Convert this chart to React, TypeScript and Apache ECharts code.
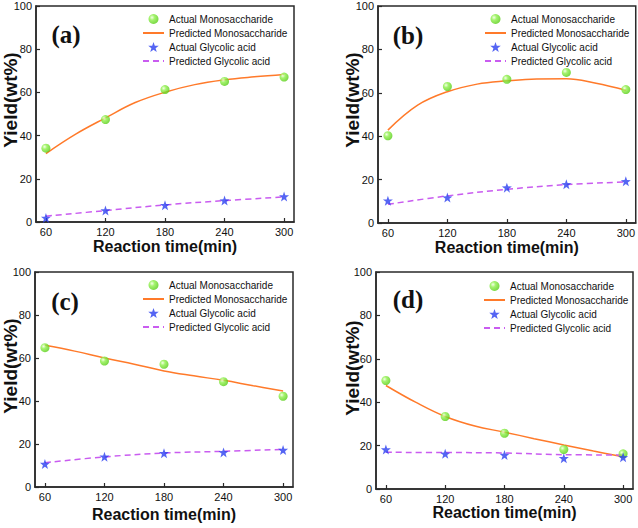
import React, { useEffect, useRef } from "react";
import * as echarts from "echarts";

// ---- data ----
const timeTicks = [60, 120, 180, 240, 300];
const predTime = [60, 90, 120, 150, 180, 210, 240, 270, 300];
const yTicks = [0, 20, 40, 60, 80, 100];

const panelLabels = ["(a)", "(b)", "(c)", "(d)"];
const seriesNames = [
  "Actual Monosaccharide",
  "Predicted Monosaccharide",
  "Actual Glycolic acid",
  "Predicted Glycolic acid",
];
const xTitle = "Reaction time(min)";
const yTitle = "Yield(wt%)";

// (a)
const monoActualA = [34.2, 47.4, 61.3, 65.1, 67.1];
const monoPredA = [31.7, 40.7, 48.2, 55.3, 60.1, 63.6, 65.8, 67.2, 68.3];
const glyActualA = [1.9, 5.3, 7.8, 9.9, 11.8];
const glyPredA = [2.7, 5.3, 7.9, 9.9, 11.6];
// (b)
const monoActualB = [40.2, 62.9, 66.2, 69.4, 61.5];
const monoPredB = [42.8, 54.3, 60.5, 64.0, 65.5, 66.4, 66.5, 64.4, 61.2];
const glyActualB = [10.3, 11.7, 16.3, 17.8, 19.2];
const glyPredB = [8.6, 12.5, 15.5, 17.7, 18.9];
// (c)
const monoActualC = [64.8, 58.6, 57.1, 49.0, 42.2];
const monoPredC = [65.9, 63.2, 60.0, 57.1, 54.0, 51.7, 49.6, 47.1, 44.7];
const glyActualC = [10.7, 14.1, 15.7, 16.1, 17.2];
const glyPredC = [11.3, 14.0, 15.8, 16.6, 17.5];
// (d)
const monoActualD = [50.0, 33.4, 25.7, 18.2, 16.2];
const monoPredD = [47.7, 40.0, 33.4, 29.0, 26.2, 23.2, 20.3, 17.5, 14.9];
const glyActualD = [18.2, 16.2, 15.7, 14.2, 14.6];
const glyPredD = [16.9, 16.8, 16.6, 15.8, 15.7];

const panels = [
  { ma: monoActualA, mp: monoPredA, ga: glyActualA, gp: glyPredA },
  { ma: monoActualB, mp: monoPredB, ga: glyActualB, gp: glyPredB },
  { ma: monoActualC, mp: monoPredC, ga: glyActualC, gp: glyPredC },
  { ma: monoActualD, mp: monoPredD, ga: glyActualD, gp: glyPredD },
];

// ---- layout ----
const grids = [
  { left: 36, top: 6, width: 258, height: 216 },
  { left: 378, top: 6, width: 258, height: 217 },
  { left: 35, top: 272, width: 258, height: 215 },
  { left: 376, top: 272, width: 257, height: 217 },
];
const xNameGaps = [16, 16, 19, 14];
const legendPos = [
  { left: 142, top: 13 },
  { left: 484, top: 13 },
  { left: 142, top: 279 },
  { left: 483, top: 280 },
];
const labelPos = [
  [66, 34],
  [408, 35],
  [65, 301],
  [408, 299],
];
const yTitlePos = [
  [10, 100],
  [352, 100],
  [10, 366],
  [352, 368],
];

const STAR =
  "path://M50 0 L61.76 33.82 L97.55 34.55 L69.02 56.18 L79.39 90.45 L50 70 L20.61 90.45 L30.98 56.18 L2.45 34.55 L38.24 33.82 Z";

const SANS = "Arial, 'Liberation Sans', sans-serif";

function zip(xs: number[], ys: number[]) {
  return xs.map((x, i) => [x, ys[i]]);
}

export default function App() {
  const ref = useRef<HTMLDivElement>(null);

  useEffect(() => {
    document.body.style.margin = "0";
    const chart = echarts.init(ref.current!, null, { renderer: "svg" });

    const green = new echarts.graphic.RadialGradient(0.35, 0.35, 0.75, [
      { offset: 0, color: "#f0ffe0" },
      { offset: 0.35, color: "#8ef04a" },
      { offset: 1, color: "#4fc80e" },
    ]);

    const series: any[] = [];
    panels.forEach((p, i) => {
      series.push({
        name: seriesNames[1],
        type: "line",
        xAxisIndex: i,
        yAxisIndex: i,
        data: zip(predTime, p.mp),
        smooth: 0.4,
        symbol: "none",
        lineStyle: { color: "#ff7a2a", width: 1.5 },
        itemStyle: { color: "rgba(0,0,0,0)", opacity: 0 },
        z: 2,
      });
      series.push({
        name: seriesNames[3],
        type: "line",
        xAxisIndex: i,
        yAxisIndex: i,
        data: zip(timeTicks, p.gp),
        smooth: 0.4,
        symbol: "none",
        lineStyle: { color: "#c95cf0", width: 1.5, type: [6, 4] },
        itemStyle: { color: "rgba(0,0,0,0)", opacity: 0 },
        z: 2,
      });
      series.push({
        name: seriesNames[0],
        type: "scatter",
        xAxisIndex: i,
        yAxisIndex: i,
        data: zip(timeTicks, p.ma),
        symbol: "circle",
        symbolSize: 9,
        itemStyle: { color: green },
        z: 3,
      });
      series.push({
        name: seriesNames[2],
        type: "scatter",
        xAxisIndex: i,
        yAxisIndex: i,
        data: zip(timeTicks, p.ga),
        symbol: STAR,
        symbolSize: 10,
        itemStyle: { color: "#2a3ff0" },
        z: 3,
      });
    });

    const option: any = {
      animation: false,
      backgroundColor: "#ffffff",
      grid: grids.map((g) => ({
        ...g,
        show: true,
        borderColor: "#2a2a2a",
        borderWidth: 1.5,
        backgroundColor: "transparent",
        containLabel: false,
      })),
      xAxis: grids.map((_, i) => ({
        type: "value",
        gridIndex: i,
        min: 50,
        max: 310,
        name: xTitle,
        nameLocation: "middle",
        nameGap: xNameGaps[i],
        nameTextStyle: {
          fontSize: 16,
          fontWeight: "bold",
          color: "#111",
          fontFamily: SANS,
        },
        axisLine: { show: true, lineStyle: { color: "#2a2a2a", width: 1.5 } },
        axisTick: {
          show: true,
          inside: true,
          length: 4,
          customValues: timeTicks,
          lineStyle: { color: "#2a2a2a", width: 1.2 },
        },
        axisLabel: {
          customValues: timeTicks,
          fontSize: 11,
          color: "#111",
          margin: 4,
          fontFamily: SANS,
        },
        splitLine: { show: false },
      })),
      yAxis: grids.map((_, i) => ({
        type: "value",
        gridIndex: i,
        min: yTicks[0],
        max: yTicks[yTicks.length - 1],
        interval: 20,
        axisLine: { show: true, lineStyle: { color: "#2a2a2a", width: 1.5 } },
        axisTick: {
          show: true,
          inside: true,
          length: 4,
          lineStyle: { color: "#2a2a2a", width: 1.2 },
        },
        axisLabel: {
          fontSize: 11,
          color: "#111",
          margin: 4,
          fontFamily: SANS,
        },
        splitLine: { show: false },
      })),
      legend: legendPos.map((lp) => ({
        ...lp,
        orient: "vertical",
        padding: 0,
        itemWidth: 21,
        itemHeight: 10,
        itemGap: 2,
        selectedMode: false,
        data: seriesNames,
        textStyle: {
          fontSize: 10,
          lineHeight: 12,
          color: "#111",
          fontFamily: SANS,
        },
      })),
      graphic: [
        ...panelLabels.map((t, i) => ({
          type: "text",
          x: labelPos[i][0],
          y: labelPos[i][1],
          style: {
            text: t,
            font: "bold 25px 'Liberation Serif', 'Times New Roman', serif",
            fill: "#111",
            align: "center",
            verticalAlign: "middle",
          },
        })),
        ...yTitlePos.map((pos) => ({
          type: "text",
          x: pos[0],
          y: pos[1],
          rotation: Math.PI / 2,
          style: {
            text: yTitle,
            font: "bold 19px Arial, 'Liberation Sans', sans-serif",
            fill: "#111",
            align: "center",
            verticalAlign: "middle",
          },
        })),
      ],
      series,
    };

    chart.setOption(option);
    return () => chart.dispose();
  }, []);

  return (
    <div
      ref={ref}
      style={{ position: "absolute", left: 0, top: 0, width: 638, height: 528 }}
    />
  );
}
